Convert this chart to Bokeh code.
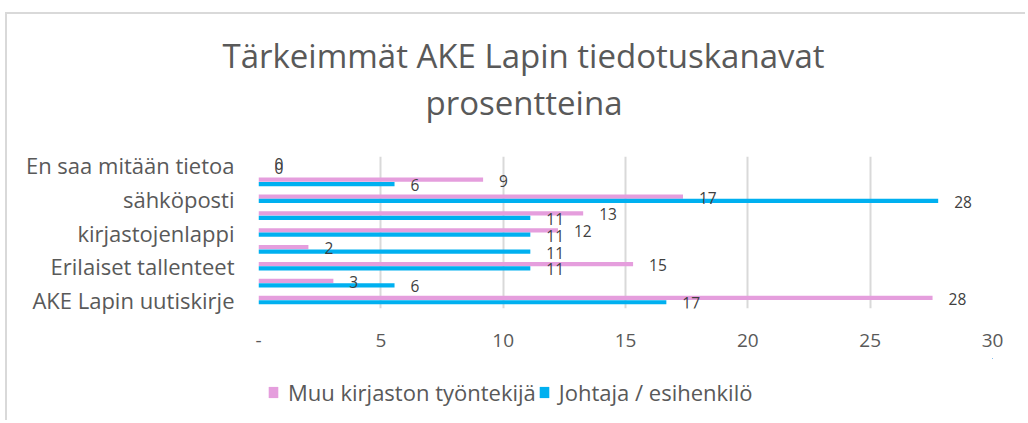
from bokeh.plotting import figure
from bokeh.layouts import column
from bokeh.models import (ColumnDataSource, FixedTicker, Legend, LegendItem, Title)
from bokeh.transform import dodge
from bokeh.embed import file_html
from bokeh.resources import INLINE

# ---- data (bottom to top, as in the chart) ----
# Only every other category name is printed on the axis of the original chart;
# the names of the unlabelled rows are not visible, so they are left empty.
categories = ["AKE Lapin uutiskirje", "", "Erilaiset tallenteet", "",
              "kirjastojenlappi", "", "sähköposti", "", "En saa mitään tietoa"]
muu_kirjaston = [27.55, 3.06, 15.31, 2.04, 12.24, 13.27, 17.35, 9.18, 0.0]
johtaja = [16.67, 5.56, 11.11, 11.11, 11.11, 11.11, 27.78, 5.56, 0.0]
series_names = ["Muu kirjaston työntekijä", "Johtaja / esihenkilö"]
x_ticks = [0, 5, 10, 15, 20, 25, 30]
title_lines = ["Tärkeimmät AKE Lapin tiedotuskanavat", "prosentteina"]

PINK = "#E59EDD"
BLUE = "#00B0F0"
TXT = "#595959"
FONT = "Open Sans"
SERIES = [("muu", PINK), ("joh", BLUE)]

ypos = list(range(len(categories)))
src = ColumnDataSource(dict(
    y=ypos,
    muu=muu_kirjaston,
    joh=johtaja,
    muu_lbl=[str(int(round(v))) for v in muu_kirjaston],
    joh_lbl=[str(int(round(v))) for v in johtaja],
))

W = 1018
HT, HM, HL = 130, 214, 62

# ---- title strip (its frame aligns with the chart's frame) ----
tf = figure(width=W, height=HT, output_backend="svg", toolbar_location=None,
            x_axis_type=None, y_axis_type=None, min_border_top=110,
            min_border_bottom=0, min_border_left=0, min_border_right=0,
            x_range=(0, 1), y_range=(0, 1))
tf.outline_line_color = None
tf.grid.visible = False
tf.title.visible = False
tf.add_layout(Title(text=title_lines[1], align="left", offset=167, standoff=0,
                    text_font_size="33px", text_font=FONT, text_color=TXT,
                    text_font_style="normal"), "above")
tf.add_layout(Title(text=title_lines[0], align="left", offset=-36, standoff=0,
                    text_font_size="33px", text_font=FONT, text_color=TXT,
                    text_font_style="normal"), "above")

# ---- main chart ----
p = figure(width=W, height=HM, output_backend="svg", toolbar_location=None,
           x_range=(0, 30), y_range=(-0.5, len(categories) - 0.5),
           min_border_left=251, min_border_right=33, min_border_top=12,
           min_border_bottom=50)
p.outline_line_color = None
p.background_fill_color = "white"
p.border_fill_color = "white"
p.title.visible = False

r_muu = p.hbar(y=dodge("y", 0.13, range=p.y_range), right="muu", left=0, height=0.25,
               source=src, fill_color=PINK, line_color=None)
r_joh = p.hbar(y=dodge("y", -0.13, range=p.y_range), right="joh", left=0, height=0.25,
               source=src, fill_color=BLUE, line_color=None)

for col, lbl, off in (("muu", "muu_lbl", 0.13), ("joh", "joh_lbl", -0.13)):
    p.text(x=col, y=dodge("y", off, range=p.y_range), text=lbl, source=src,
           x_offset=16, y_offset=1, text_baseline="middle", text_align="left",
           text_font_size="15.5px", text_color="#404040", text_font={"value": FONT})

# axes
p.xaxis.ticker = FixedTicker(ticks=x_ticks)
p.xaxis.major_label_overrides = {0: "-"}
p.xaxis.axis_line_color = None
p.xaxis.major_tick_line_color = None
p.xaxis.minor_tick_line_color = None
p.xaxis.major_label_standoff = 19
p.xaxis.major_label_text_font_size = "19px"
p.xaxis.major_label_text_color = TXT
p.xaxis.major_label_text_font = FONT

p.yaxis.ticker = FixedTicker(ticks=[i for i, c in enumerate(categories) if c])
p.yaxis.major_label_overrides = {i: c for i, c in enumerate(categories) if c}
p.yaxis.axis_line_color = None
p.yaxis.major_tick_line_color = None
p.yaxis.minor_tick_line_color = None
p.yaxis.major_label_standoff = 18
p.yaxis.major_label_text_font_size = "22px"
p.yaxis.major_label_text_color = TXT
p.yaxis.major_label_text_font = FONT

p.ygrid.grid_line_color = None
p.xgrid.ticker = FixedTicker(ticks=x_ticks)
p.xgrid.grid_line_color = "#D9D9D9"
p.xgrid.grid_line_width = 2

# ---- legend strip (its frame aligns with the chart's) ----
pl = figure(width=W, height=HL, output_backend="svg", toolbar_location=None,
            x_axis_type=None, y_axis_type=None, min_border=0,
            x_range=(-10, -9), y_range=(-30, -29))
pl.outline_line_color = None
pl.grid.visible = False
pl.title.visible = False
sw = [pl.hbar(y="y", right=col, left=0, height=0, source=src,
              fill_color=c, line_color=None) for col, c in SERIES]
legend = Legend(items=[LegendItem(label=n, renderers=[r]) for n, r in zip(series_names, sw)],
                orientation="horizontal", location=(9, 13),
                label_text_font_size="22px", label_text_color=TXT, label_text_font=FONT,
                glyph_width=12, glyph_height=14, label_standoff=9, spacing=2,
                padding=0, margin=0, border_line_color=None, background_fill_alpha=0)
pl.add_layout(legend, "center")

layout = column(tf, p, pl, spacing=0,
                styles={"border-left": "2px solid #D9D9D9", "border-top": "2px solid #D9D9D9",
                        "margin-left": "5px", "margin-top": "12px"})

open("out.html", "w").write(file_html(layout, INLINE))
